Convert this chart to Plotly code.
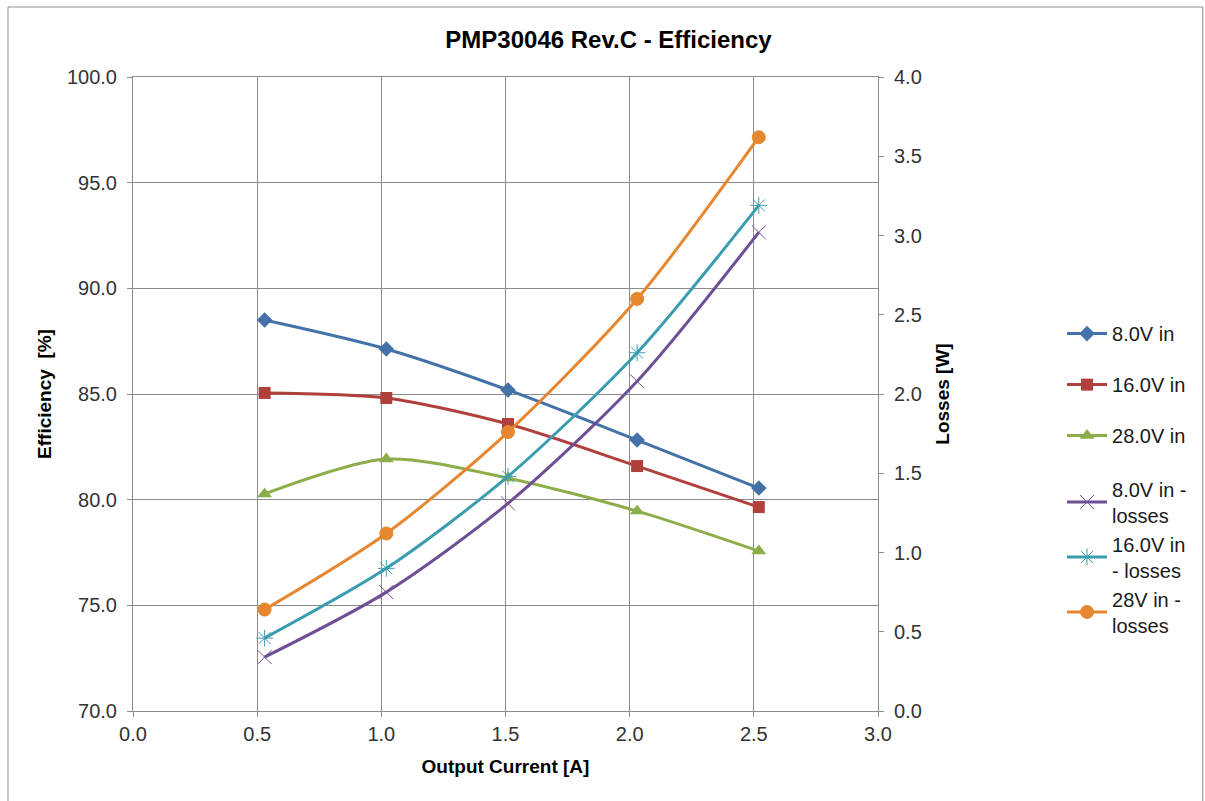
import plotly.graph_objects as go

current = [0.53, 1.02, 1.51, 2.03, 2.52]
eff_8v = [88.5, 87.13, 85.19, 82.82, 80.55]
eff_16v = [85.05, 84.81, 83.58, 81.59, 79.65]
eff_28v = [80.27, 81.92, 81.02, 79.46, 77.57]
loss_8v = [0.34, 0.75, 1.31, 2.08, 3.02]
loss_16v = [0.46, 0.90, 1.48, 2.26, 3.19]
loss_28v = [0.64, 1.12, 1.76, 2.60, 3.62]

names = ["8.0V in", "16.0V in", "28.0V in",
         "8.0V in -<br>losses", "16.0V in<br>- losses", "28V in -<br>losses"]
colors = ["#4472A8", "#B0403C", "#8DAD4A", "#6E4F96", "#3A9DAF", "#E6872F"]
symbols = ["diamond", "square", "triangle-up", "x-thin", "asterisk-open", "circle"]

fig = go.Figure()
eff = [eff_8v, eff_16v, eff_28v]
loss = [loss_8v, loss_16v, loss_28v]
for i in range(3):
    fig.add_trace(go.Scatter(
        x=current, y=eff[i], name=names[i], mode="lines+markers",
        line=dict(color=colors[i], width=3, shape="spline", smoothing=0.8),
        marker=dict(symbol=symbols[i], size=12 if i != 2 else 13, color=colors[i]),
        legend="legend", legendgroup=f"g{i}"))
for i in range(3):
    j = i + 3
    mk = dict(symbol=symbols[j], size=14 if j != 5 else 13, color=colors[j],
              line=dict(color=colors[j], width=1))
    fig.add_trace(go.Scatter(
        x=current, y=loss[i], name=names[j], mode="lines+markers", yaxis="y2",
        line=dict(color=colors[j], width=3, shape="spline", smoothing=0.8),
        marker=mk, legend="legend2", legendgroup=f"g{j}"))

FONT = "Arial, Liberation Sans, sans-serif"
axis_font = dict(family=FONT, size=20, color="#333333")
title_font = dict(family=FONT, size=19, color="#000000")
legend_font = dict(family=FONT, size=20, color="#1a1a1a")

fig.update_layout(
    width=1205, height=801,
    margin=dict(l=133, r=327, t=77, b=90),
    paper_bgcolor="white", plot_bgcolor="white",
    title=dict(text="<b>PMP30046 Rev.C - Efficiency</b>", x=0.505, xanchor="center",
               xref="container", y=0.951, yanchor="middle",
               font=dict(family=FONT, size=24, color="#000000")),
    xaxis=dict(range=[0, 3], dtick=0.5, tickformat=".1f", showgrid=True,
               gridcolor="#8C8C8C", gridwidth=1, linecolor="#8C8C8C", mirror=True,
               ticks="outside", ticklen=5, tickcolor="#8C8C8C",
               tickfont=axis_font, zeroline=False,
               title=dict(text="<b>Output Current [A]</b>", font=title_font, standoff=15)),
    yaxis=dict(range=[70, 100], dtick=5, tickformat=".1f", showgrid=True,
               gridcolor="#8C8C8C", gridwidth=1, linecolor="#8C8C8C",
               ticks="outside", ticklen=5, tickcolor="#8C8C8C", ticklabelstandoff=6,
               tickfont=axis_font, zeroline=False,
               title=dict(text="<b>Efficiency  [%]</b>", font=title_font, standoff=10)),
    yaxis2=dict(range=[0, 4], dtick=0.5, tickformat=".1f", overlaying="y", side="right",
                showgrid=False, linecolor="#8C8C8C", ticks="outside", ticklen=5,
                tickcolor="#8C8C8C", tickfont=axis_font, zeroline=False,
                ticklabelstandoff=6,
                title=dict(text="<b>Losses [W]</b>", font=title_font, standoff=14)),
    legend=dict(x=1.247, xref="paper", y=0.626, yanchor="top",
                font=legend_font, tracegroupgap=22, itemwidth=40,
                bgcolor="rgba(0,0,0,0)"),
    legend2=dict(x=1.247, xref="paper", y=0.381, yanchor="top",
                 font=legend_font, tracegroupgap=0, itemwidth=40,
                 bgcolor="rgba(0,0,0,0)"),
    showlegend=True,
)

fig.add_shape(type="rect", xref="paper", yref="paper", x0=-0.1678, x1=1.436,
              y0=-0.2, y1=1.1104, line=dict(color="#8C8C8C", width=1), layer="below")

fig.write_html("out.html")
